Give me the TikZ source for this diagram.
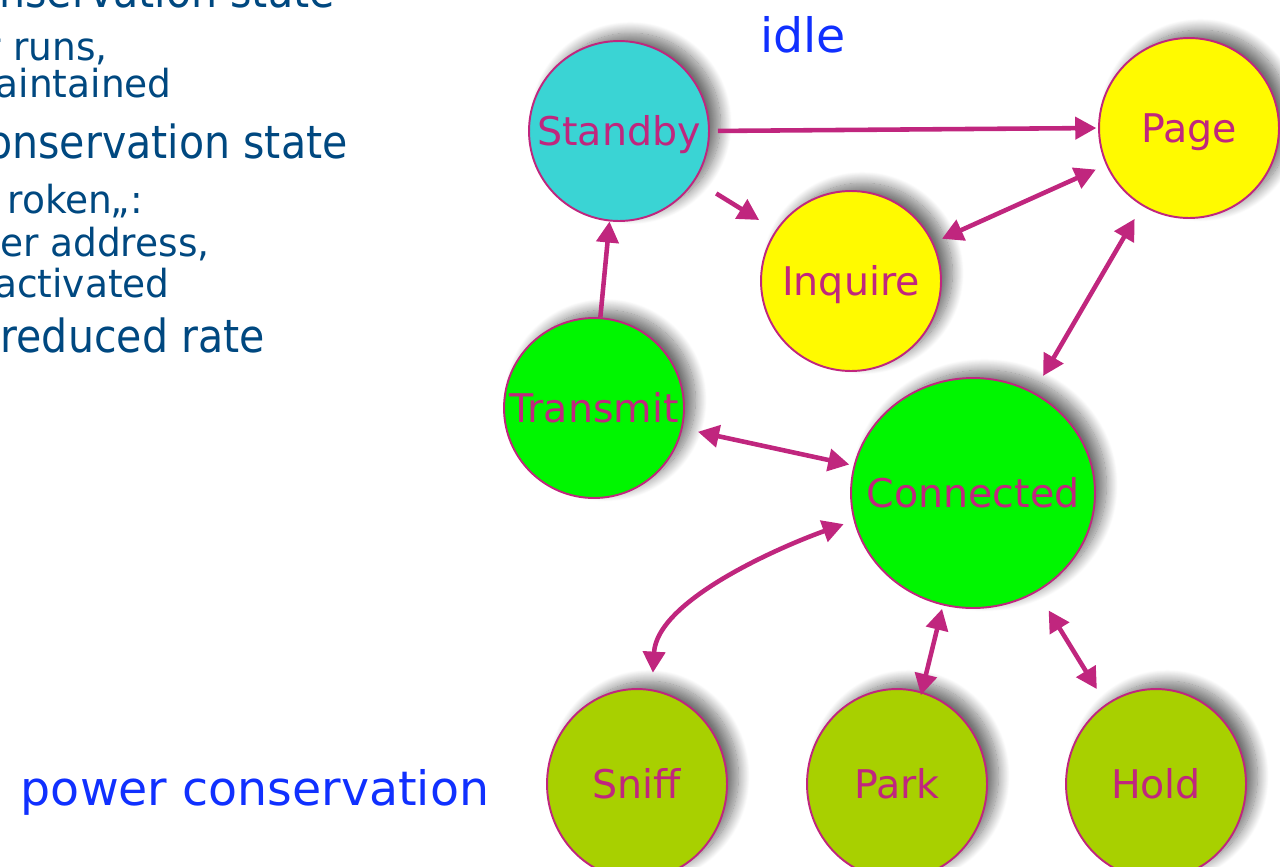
\documentclass[tikz,border=0pt]{standalone}
\usepackage{fontspec}
\setmainfont{DejaVu Sans}
\newfontfamily\notesfont[FakeStretch=0.97]{DejaVu Sans}
\newfontfamily\bignotesfont[FakeStretch=0.9]{DejaVu Sans}
\usetikzlibrary{arrows.meta,shapes.geometric,shadows.blur}
\definecolor{linkmag}{RGB}{192,38,126}
\definecolor{standbycyan}{RGB}{58,212,212}
\definecolor{pageyellow}{RGB}{255,250,0}
\definecolor{linkgreen}{RGB}{0,246,0}
\definecolor{lowgreen}{RGB}{168,208,0}
\definecolor{titleblue}{RGB}{16,48,255}
\definecolor{notesblue}{RGB}{0,72,128}
% state labels may overhang their shape without enlarging it
\newcommand{\statetext}[1]{\makebox[0pt][c]{#1}}
\begin{document}
\begin{tikzpicture}[x=0.02cm,y=-0.02cm,
  state/.style={circle, draw=linkmag, line width=1.1pt, minimum size=3.6cm,
    inner sep=0pt, text=linkmag, font=\fontsize{22.5}{26}\selectfont,
    text height=16.4pt, text depth=0pt,
    blur shadow={shadow xshift=6.5pt, shadow yshift=4.5pt, shadow blur radius=6.5pt,
      shadow blur steps=16, shadow opacity=55}},
  bigstate/.style={state, ellipse, minimum width=4.88cm, minimum height=4.6cm},
  lowstate/.style={state, ellipse, fill=lowgreen, minimum width=3.6cm, minimum height=3.8cm},
  link/.style={draw=linkmag, line width=2.6pt, -{Triangle[length=12pt,width=12.5pt]}},
  dlink/.style={link, {Triangle[length=12pt,width=12.5pt]}-{Triangle[length=12pt,width=12.5pt]}},
  note/.style={anchor=base east, text=notesblue, inner sep=0pt, font=\notesfont\fontsize{22}{26}\selectfont},
  bignote/.style={note, font=\bignotesfont\fontsize{26}{30}\selectfont},
  caption/.style={anchor=base, text=titleblue, inner sep=0pt, font=\fontsize{27}{32}\selectfont}
]
\useasboundingbox (0,0) rectangle (1280,866);
\clip (0,0) rectangle (1280,866);

% bullet text on the left
\node[bignote] (n1) at (335,7)   {nservation state};
\node[note]    (n2) at (108,60)  {r runs,};
\node[note]    (n3) at (172,97)  {aintained};
\node[bignote] (n4) at (348,158) {onservation state};
\node[note]    (n5) at (143,213) {roken„:};
\node[note]    (n6) at (210,256) {er address,};
\node[note]    (n7) at (170,297) {activated};
\node[bignote] (n8) at (265,352) {reduced rate};

% group captions
\node[caption] (idle) at (803,52) {idle};
\node[caption] (powcons) at (255,805) {power conservation};

% states
\node[state, fill=standbycyan] (standby) at (619,131) {\statetext{Standby}};
\node[state, fill=pageyellow] (page) at (1189,128) {\statetext{Page}};
\node[state, fill=pageyellow] (inquire) at (851,281) {\statetext{Inquire}};
\node[state, fill=linkgreen] (transmit) at (594,408) {\statetext{Transmit}};
\node[bigstate, fill=linkgreen] (connected) at (973,493) {\statetext{Connected}};
\node[lowstate] (sniff) at (637,784) {\statetext{Sniff}};
\node[lowstate] (park) at (897,784) {\statetext{Park}};
\node[lowstate] (hold) at (1156,784) {\statetext{Hold}};

% transitions
\draw[link, shorten <=4.5pt, shorten >=1pt] (standby.east) -- (page.west);
\draw[link, shorten <=14pt, shorten >=11pt] (standby.-33) -- (inquire.146);
\draw[dlink, shorten <=6.3pt, shorten >=5.3pt] (page.204) -- (inquire.25);
\draw[dlink, shorten <=8.5pt, shorten >=10.7pt] (page.239) -- (connected.59);
\draw[link] (transmit.86) -- (standby.-96);
\draw[dlink, shorten <=8.9pt, shorten >=2.5pt] (transmit.-13) -- (connected.167);
\draw[dlink, shorten <=6pt, shorten >=9.5pt] (connected.193) .. controls +(-70,25) and +(5,-90) .. (sniff.81);
\draw[dlink, shorten <=2pt, shorten >=-2pt] (connected.255) -- (park.75);
\draw[dlink, shorten <=12.4pt, shorten >=9.9pt] (connected.-57) -- (hold.122);
\end{tikzpicture}
\end{document}
